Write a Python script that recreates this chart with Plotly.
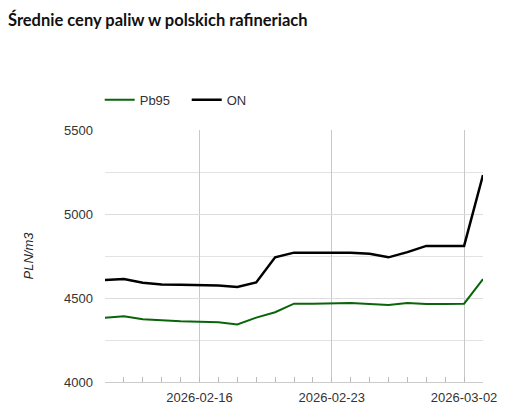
import plotly.graph_objects as go
import pandas as pd

dates = pd.date_range("2026-02-11", "2026-03-03", freq="D").strftime("%Y-%m-%d").tolist()
pb95 = [4383, 4391, 4373, 4365, 4361, 4359, 4355, 4343, 4383, 4415, 4466,
        4466, 4468, 4470, 4464, 4458, 4470, 4464, 4464, 4466, 4613]
on = [4607, 4613, 4591, 4581, 4579, 4577, 4574, 4565, 4593, 4742, 4770,
      4770, 4770, 4770, 4764, 4742, 4773, 4810, 4810, 4810, 5232]
x_ticks = ["2026-02-16", "2026-02-23", "2026-03-02"]
y_ticks = [4000, 4500, 5000, 5500]

fig = go.Figure()
fig.add_trace(go.Scatter(x=dates, y=pb95, name="Pb95", mode="lines",
                         line=dict(color="#0a640a", width=2)))
fig.add_trace(go.Scatter(x=dates, y=on, name="ON", mode="lines",
                         line=dict(color="#000000", width=2.5)))

tick_font = dict(family="Liberation Sans, Arial, sans-serif", size=13, color="#333333")

# page body has an 8px default margin; figure sized/offset to compensate
fig.update_layout(
    width=490, height=402,
    margin=dict(l=97, r=15, t=122, b=28),
    paper_bgcolor="white", plot_bgcolor="white",
    title=dict(text="<b>Średnie ceny paliw w polskich rafineriach</b>",
               x=0, xanchor="left", y=1 - 12 / 402, yanchor="middle",
               pad=dict(l=0, r=0, t=0, b=0),
               font=dict(family="Lato, sans-serif", size=16.5, color="#111111")),
    showlegend=True,
    legend=dict(orientation="h", x=-0.014, xanchor="left", y=1.12, yanchor="middle",
                font=tick_font, itemwidth=30, entrywidth=42, entrywidthmode="pixels",
                bgcolor="rgba(0,0,0,0)"),
    xaxis=dict(type="date", range=["2026-02-11", "2026-03-03"],
               tickvals=x_ticks, ticktext=x_ticks, tickfont=tick_font,
               showgrid=True, gridcolor="#c8c8c8", gridwidth=1,
               ticks="inside", ticklen=5, tickcolor="#bbbbbb",
               minor=dict(dtick=86400000, ticks="inside", ticklen=5,
                          tickcolor="#bbbbbb", showgrid=False),
               showline=True, linecolor="#cccccc", linewidth=1,
               ticklabelstandoff=3, zeroline=False, fixedrange=True,
               automargin=False),
    yaxis=dict(range=[4000, 5500], tickvals=y_ticks, tickfont=tick_font,
               showgrid=True, gridcolor="#dddddd", gridwidth=1,
               minor=dict(dtick=250, showgrid=True, gridcolor="#e3e3e3"),
               zeroline=False, ticklabelstandoff=11, automargin=False,
               title=dict(text="<i>PLN/m3</i>", standoff=27,
                          font=dict(family="Liberation Sans, Arial, sans-serif",
                                    size=13, color="#222222")),
               fixedrange=True),
)

fig.write_html("out.html")
